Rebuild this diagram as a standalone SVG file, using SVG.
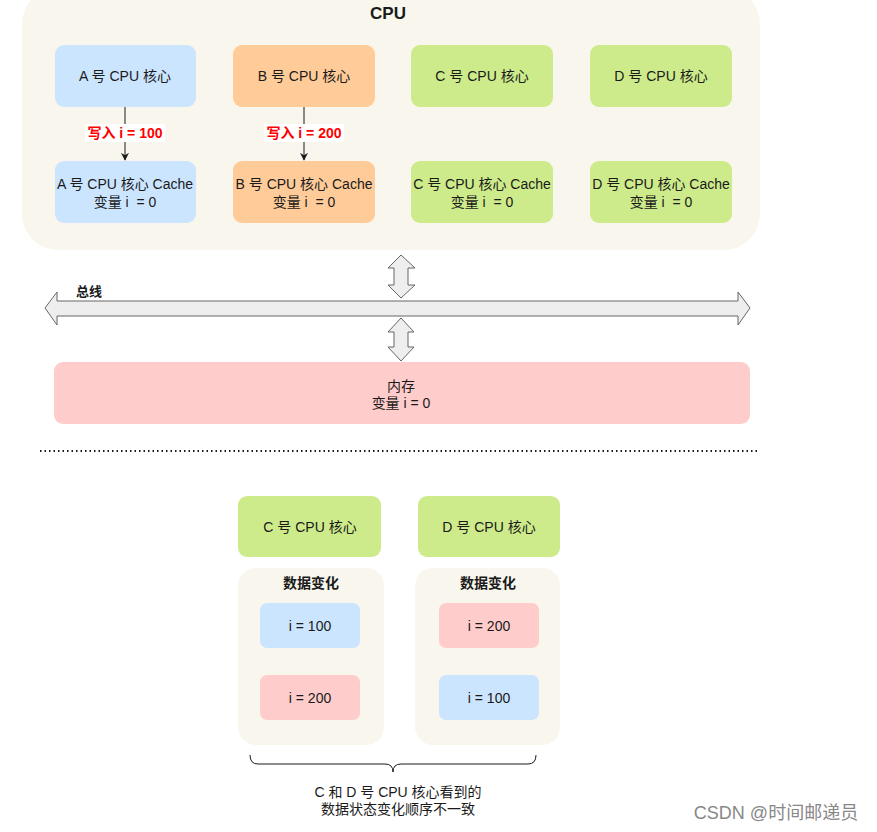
<svg xmlns="http://www.w3.org/2000/svg" width="877" height="832" viewBox="0 0 877 832">
<defs>
<style>
.t{font-family:"Liberation Sans","Noto Sans CJK SC",sans-serif;font-size:14px;fill:#1a1a1a;text-anchor:middle}
.b{font-weight:bold}
.blue{fill:#cce5ff}
.orange{fill:#ffcc99}
.green{fill:#cdeb8b}
.pink{fill:#ffcccc}
.cont{fill:#f9f7ed}
.big{fill:#eeeeee;stroke:#666666;stroke-width:1}
.red{fill:#ff0000;font-weight:bold}
</style>
<marker id="ah" viewBox="0 0 10 10" refX="9" refY="5" markerWidth="8" markerHeight="8" orient="auto" markerUnits="userSpaceOnUse">
<path d="M0,0 L10,5 L0,10 L3,5 Z" fill="#1a1a1a"/>
</marker>
</defs>
<rect width="877" height="832" fill="#ffffff"/>

<g id="cpu">
<rect class="cont" x="22" y="-12" width="738" height="262" rx="36"/>
<text class="t b" x="388" y="19" style="font-size:17px">CPU</text>
</g>

<g id="coreA"><rect class="blue" x="55" y="45" width="141" height="62" rx="9"/><text class="t" x="125" y="81">A 号 CPU 核心</text></g>
<g id="coreB"><rect class="orange" x="233" y="45" width="142" height="62" rx="9"/><text class="t" x="304" y="81">B 号 CPU 核心</text></g>
<g id="coreC"><rect class="green" x="411" y="45" width="142" height="62" rx="9"/><text class="t" x="482" y="81">C 号 CPU 核心</text></g>
<g id="coreD"><rect class="green" x="590" y="45" width="142" height="62" rx="9"/><text class="t" x="661" y="81">D 号 CPU 核心</text></g>

<g id="cacheA"><rect class="blue" x="55" y="161" width="141" height="62" rx="9"/><text class="t" x="125" y="189">A 号 CPU 核心 Cache</text><text class="t" x="125" y="207">变量 i&#160; = 0</text></g>
<g id="cacheB"><rect class="orange" x="233" y="161" width="142" height="62" rx="9"/><text class="t" x="304" y="189">B 号 CPU 核心 Cache</text><text class="t" x="304" y="207">变量 i&#160; = 0</text></g>
<g id="cacheC"><rect class="green" x="411" y="161" width="142" height="62" rx="9"/><text class="t" x="482" y="189">C 号 CPU 核心 Cache</text><text class="t" x="482" y="207">变量 i&#160; = 0</text></g>
<g id="cacheD"><rect class="green" x="590" y="161" width="142" height="62" rx="9"/><text class="t" x="661" y="189">D 号 CPU 核心 Cache</text><text class="t" x="661" y="207">变量 i&#160; = 0</text></g>

<g id="connectors">
<line x1="125" y1="107" x2="125" y2="160" stroke="#1a1a1a" stroke-width="1" marker-end="url(#ah)"/>
<line x1="304" y1="107" x2="304" y2="160" stroke="#1a1a1a" stroke-width="1" marker-end="url(#ah)"/>
<rect x="85" y="124" width="80" height="18" fill="#ffffff"/>
<text class="t red" x="125" y="138">写入 i = 100</text>
<rect x="264" y="124" width="80" height="18" fill="#ffffff"/>
<text class="t red" x="304" y="138">写入 i = 200</text>
<polygon class="big" points="401,255 415,268 408,268 408,285 415,285 401,298 388,285 394,285 394,268 388,268"/>
<polygon class="big" points="401,318 414,332 408,332 408,347 414,347 401,361 388,347 394,347 394,332 388,332"/>
</g>

<g id="bus">
<polygon class="big" points="45,308 57,292 57,301 738,301 738,292 750,308 738,325 738,316 57,316 57,325"/>
<text class="t b" x="89" y="296" style="font-size:13px">总线</text>
</g>

<g id="memory">
<rect class="pink" x="54" y="362" width="696" height="62" rx="9"/>
<text class="t" x="401" y="391">内存</text>
<text class="t" x="401" y="408">变量 i = 0</text>
</g>

<line x1="40" y1="451" x2="758" y2="451" stroke="#1a1a1a" stroke-width="2" stroke-dasharray="1.5,3"/>

<g id="coreC2"><rect class="green" x="238" y="496" width="143" height="61" rx="9"/><text class="t" x="310" y="532">C 号 CPU 核心</text></g>
<g id="coreD2"><rect class="green" x="418" y="496" width="142" height="61" rx="9"/><text class="t" x="489" y="532">D 号 CPU 核心</text></g>

<g id="dataC">
<rect class="cont" x="238" y="568" width="146" height="177" rx="18"/>
<text class="t b" x="311" y="588">数据变化</text>
</g>
<g id="dataD">
<rect class="cont" x="415" y="568" width="145" height="177" rx="18"/>
<text class="t b" x="488" y="588">数据变化</text>
</g>
<g id="c100"><rect class="blue" x="260" y="603" width="100" height="45" rx="7"/><text class="t" x="310" y="631">i = 100</text></g>
<g id="c200"><rect class="pink" x="260" y="675" width="100" height="45" rx="7"/><text class="t" x="310" y="703">i = 200</text></g>
<g id="d200"><rect class="pink" x="439" y="603" width="100" height="45" rx="7"/><text class="t" x="489" y="631">i = 200</text></g>
<g id="d100"><rect class="blue" x="439" y="675" width="100" height="45" rx="7"/><text class="t" x="489" y="703">i = 100</text></g>

<g id="brace">
<path d="M250,755 Q250,764 258,764 L385,764 Q393,764 393,772 Q393,764 401,764 L528,764 Q536,764 536,755" fill="none" stroke="#1a1a1a" stroke-width="1"/>
</g>
<text class="t" x="398" y="797">C 和 D 号 CPU 核心看到的</text>
<text class="t" x="398" y="814">数据状态变化顺序不一致</text>

<text x="776" y="819" style="font-family:'Liberation Sans','Noto Sans CJK SC',sans-serif;font-size:18px;fill:#888888;text-anchor:middle">CSDN @时间邮递员</text>
</svg>
